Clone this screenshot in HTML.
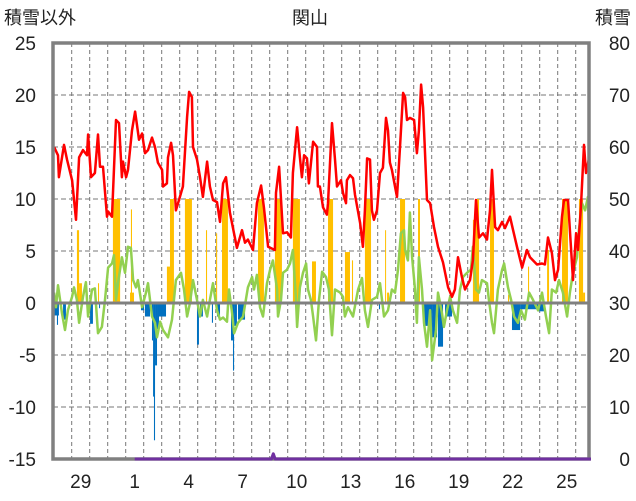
<!DOCTYPE html>
<html><head><meta charset="utf-8">
<style>
html,body{margin:0;padding:0;background:#fff;}
svg{display:block;font-family:"Liberation Sans","Noto Sans CJK JP",sans-serif;}
</style></head>
<body>
<svg id="chart" width="636" height="501" viewBox="0 0 636 501" xmlns="http://www.w3.org/2000/svg">
<defs><clipPath id="plotclip"><rect x="53" y="43" width="536" height="416"/></clipPath></defs>
<text x="4" y="24" font-size="18" fill="#222">積雪以外</text>
<text x="310" y="24" font-size="18" fill="#222" text-anchor="middle">関山</text>
<text x="631" y="24" font-size="18" fill="#222" text-anchor="end">積雪</text>
<g id="grid"></g>
<g id="marks" clip-path="url(#plotclip)"></g>
<g id="axes"></g>
</svg>
<script>
// ---- data (t = days since start of the 28th; values in chart units) ----
const leftTicks = [25,20,15,10,5,0,-5,-10,-15];
const rightTicks = [80,70,60,50,40,30,20,10,0];
const dayLabels = ["29","1","4","7","10","13","16","19","22","25"];
const dayLabelPos = [1,4,7,10,13,16,19,22,25,28];
const redSeries = [[0.02,15.0],[0.24,14.2],[0.29,12.1],[0.57,15.2],[0.74,13.8],[1.02,11.8],[1.24,8.0],[1.41,14.0],[1.63,14.7],[1.85,14.2],[1.91,16.2],[2.07,12.1],[2.29,12.5],[2.46,16.2],[2.57,13.1],[2.74,13.1],[2.96,8.3],[3.02,8.8],[3.24,8.3],[3.46,17.6],[3.63,17.3],[3.79,12.1],[3.85,13.6],[4.02,12.1],[4.13,12.8],[4.35,16.6],[4.52,18.4],[4.63,17.1],[4.74,15.7],[4.91,16.3],[5.07,14.4],[5.24,14.7],[5.46,15.9],[5.63,15.0],[5.79,13.5],[6.02,12.8],[6.07,11.2],[6.29,11.5],[6.35,14.0],[6.52,15.4],[6.63,14.2],[6.79,8.9],[6.96,9.9],[7.18,11.2],[7.41,17.9],[7.52,20.3],[7.68,19.8],[7.74,15.0],[7.96,13.8],[8.13,12.1],[8.29,10.2],[8.52,13.6],[8.68,11.2],[8.85,9.9],[9.07,9.7],[9.24,7.8],[9.41,11.5],[9.57,12.1],[9.79,8.7],[10.18,5.3],[10.46,7.0],[10.63,5.8],[10.79,6.1],[11.07,5.1],[11.29,9.6],[11.52,11.3],[11.68,9.2],[11.91,5.4],[12.29,5.1],[12.35,10.6],[12.52,13.1],[12.74,6.7],[12.96,6.8],[13.18,6.3],[13.29,12.5],[13.52,16.9],[13.68,14.0],[13.79,12.1],[13.91,14.2],[14.07,13.9],[14.18,11.5],[14.41,15.5],[14.63,15.0],[14.68,11.2],[14.79,11.2],[14.96,9.2],[15.18,8.5],[15.24,9.6],[15.46,17.3],[15.63,13.8],[15.74,11.2],[15.96,11.8],[16.07,10.6],[16.24,9.6],[16.29,11.8],[16.46,12.3],[16.63,12.0],[16.74,10.4],[17.02,7.7],[17.18,5.4],[17.29,8.9],[17.41,13.9],[17.57,13.8],[17.68,8.9],[17.79,8.0],[17.96,8.9],[18.13,12.5],[18.29,13.0],[18.46,17.8],[18.57,16.6],[18.68,13.5],[18.79,12.8],[18.96,11.2],[19.07,10.2],[19.24,15.0],[19.41,20.2],[19.52,19.8],[19.63,17.6],[19.79,17.8],[20.02,17.6],[20.18,14.4],[20.29,16.6],[20.41,21.0],[20.52,18.8],[20.74,9.9],[20.91,9.6],[21.13,7.3],[21.35,5.4],[21.63,3.9],[21.91,1.5],[22.13,0.6],[22.29,1.3],[22.46,4.4],[22.68,2.5],[22.85,1.3],[23.13,2.2],[23.29,4.1],[23.46,9.9],[23.63,6.3],[23.85,6.7],[24.07,6.1],[24.24,8.9],[24.35,12.8],[24.52,7.3],[24.68,7.0],[24.91,7.8],[25.07,7.2],[25.35,8.3],[25.52,7.0],[25.74,5.4],[26.02,3.4],[26.29,5.1],[26.46,4.4],[26.85,3.7],[27.13,3.8],[27.29,3.7],[27.46,6.3],[27.68,4.8],[27.85,2.2],[28.02,3.2],[28.24,8.3],[28.35,9.9],[28.57,9.9],[28.68,7.0],[28.85,2.2],[29.02,6.7],[29.13,5.1],[29.29,9.2],[29.46,15.2],[29.57,12.5],[29.74,13.9],[29.8,11.6]];
const greenSeries = [[0.02,1.0],[0.13,-0.4],[0.24,1.7],[0.46,-1.0],[0.63,-2.6],[0.79,-0.7],[1.02,0.6],[1.13,1.5],[1.29,0.3],[1.41,-1.9],[1.63,0.6],[1.79,2.0],[1.91,-1.3],[2.13,1.3],[2.29,1.4],[2.46,-2.9],[2.68,-2.3],[2.85,0.3],[3.02,3.4],[3.24,3.8],[3.35,4.6],[3.46,0.3],[3.57,1.9],[3.79,4.4],[3.96,2.9],[4.13,5.4],[4.29,5.3],[4.41,2.2],[4.57,1.5],[4.68,2.2],[4.91,-0.4],[5.13,1.0],[5.24,1.9],[5.46,-1.3],[5.63,-1.9],[5.74,-3.3],[5.91,-1.8],[6.07,-2.6],[6.35,-3.3],[6.57,-1.6],[6.79,2.2],[7.07,2.9],[7.24,1.3],[7.41,-1.3],[7.57,0],[7.74,2.2],[7.96,0.3],[8.13,-1.3],[8.29,0.3],[8.52,-1.3],[8.68,0.3],[8.85,1.9],[9.07,-0.7],[9.24,-1.6],[9.41,-1.4],[9.63,-1.8],[9.74,1.3],[9.91,-1.0],[10.02,-2.9],[10.24,-1.9],[10.52,-1.3],[10.79,1.5],[11.02,2.5],[11.13,1.3],[11.29,2.7],[11.46,-0.4],[11.63,-1.3],[11.85,1.9],[12.02,3.2],[12.18,4.1],[12.41,1.3],[12.46,-1.3],[12.63,0.3],[12.74,2.9],[12.96,3.2],[13.13,3.8],[13.29,5.1],[13.46,0.3],[13.52,-2.3],[13.68,1.5],[13.85,2.9],[14.02,3.8],[14.13,1.3],[14.29,0.3],[14.41,-1.3],[14.57,-3.6],[14.74,0.3],[14.91,3.0],[15.13,2.5],[15.29,1.3],[15.46,-3.1],[15.63,1.3],[15.91,1.0],[16.07,0.6],[16.18,-1.3],[16.35,-0.4],[16.63,-1.3],[16.91,1.3],[17.13,2.4],[17.29,-0.7],[17.46,-2.3],[17.68,0.3],[17.96,0.6],[18.13,1.9],[18.35,-1.3],[18.57,-0.7],[18.79,1.3],[18.96,1.0],[19.13,3.2],[19.29,6.7],[19.46,7.0],[19.52,5.1],[19.68,4.1],[19.79,8.7],[19.91,4.4],[20.07,1.3],[20.18,-1.9],[20.29,4.4],[20.46,1.3],[20.57,-1.9],[20.74,-4.2],[20.91,-0.7],[21.02,-5.5],[21.24,-2.6],[21.35,1.0],[21.57,-1.0],[21.68,-2.3],[21.85,-0.7],[22.02,0.6],[22.18,-0.7],[22.41,-1.9],[22.57,1.3],[22.74,2.5],[22.96,2.9],[23.18,3.2],[23.29,5.4],[23.46,1.3],[23.63,1.0],[23.79,2.2],[24.07,1.9],[24.18,0.3],[24.35,-1.9],[24.46,-2.9],[24.68,1.3],[24.91,3.2],[25.02,3.8],[25.24,1.5],[25.41,0.3],[25.57,-1.3],[25.79,-1.9],[25.96,-0.7],[26.18,-1.6],[26.41,1.0],[26.63,0.3],[26.91,-0.7],[27.13,1.0],[27.35,-1.3],[27.52,-2.9],[27.68,1.3],[27.91,1.0],[28.07,2.2],[28.29,1.0],[28.52,-1.3],[28.68,1.0],[28.85,2.9],[29.07,4.4],[29.18,7.0],[29.35,9.6],[29.52,8.9],[29.68,10.2],[29.8,3.5]];
const yellowBars = [[1.29,1.41,7.0],[1.41,1.57,1.9],[2.46,2.52,1.9],[3.29,3.69,10],[4.24,4.46,1.0],[4.29,4.35,9],[6.29,6.46,3.5],[6.46,6.68,10],[7.29,7.68,10],[8.46,8.52,7],[9.02,9.08,6.7],[9.35,9.68,10],[11.35,11.68,10],[12.29,12.68,10],[13.29,13.68,10],[14.35,14.57,4],[15.24,15.52,10],[16.18,16.46,4.9],[16.57,16.63,4.1],[17.29,17.63,10],[18.41,18.46,7],[18.52,18.63,1],[19.24,19.52,10],[20.24,20.35,10],[23.29,23.46,8],[23.46,23.63,10],[24.24,24.46,10],[25.24,25.3,0.8],[26.35,26.41,3.5],[27.41,27.52,5.1],[28.24,28.57,10],[29.18,29.41,10],[29.41,29.52,1]];
const blueBars = [[0.02,0.29,-1.2],[0.18,0.24,-2.1],[0.52,0.68,-1.6],[2.02,2.18,-2],[2.52,2.57,-0.5],[4.85,5.02,-0.7],[5.07,5.35,-1.3],[5.46,5.52,-3.6],[5.52,5.57,-9],[5.57,5.63,-13.2],[5.63,5.74,-6],[5.74,5.85,-2.5],[5.85,6.24,-1.3],[7.96,8.07,-4],[8.13,8.29,-1.3],[8.79,8.85,-1.9],[9.07,9.24,-1.3],[9.85,9.96,-3.6],[9.96,10.02,-6.5],[10.02,10.18,-2.2],[10.24,10.63,-1.6],[18.07,18.13,-0.6],[20.52,21.02,-2.2],[21.02,21.3,-3.3],[21.35,21.63,-4.2],[21.74,22.13,-1.3],[25.46,25.91,-2.6],[25.91,26.91,-0.6],[26.91,27.3,-0.8],[29.74,29.8,-1]];
const snowDepth = [[4.5,0],[12.1,0],[12.2,1.0],[12.3,0],[29.85,0]];

// ---- scales ----
const X0 = 53.7, DAY = 18;
function xs(t){ return X0 + t*DAY; }
function yl(v){ return 303 - v*10.4; }
function yr(v){ return 459 - v*5.2; }
const NS = "http://www.w3.org/2000/svg";
function mk(tag, attrs, parent){ const e=document.createElementNS(NS,tag); for(const k in attrs) e.setAttribute(k,attrs[k]); parent.appendChild(e); return e; }
const grid=document.getElementById('grid'), marks=document.getElementById('marks'), axes=document.getElementById('axes');

// grid
for(let k=1;k<=29;k++){
  const l=mk('line',{x1:xs(k),x2:xs(k),y1:43,y2:459,stroke:'#777','stroke-width':1,'stroke-dasharray':'4,3'},grid);
  
  
}
leftTicks.forEach(v=>{
  if(v===25||v===-15) return;
  const l=mk('line',{x1:53,x2:589,y1:yl(v),y2:yl(v),stroke:'#777','stroke-width':1,'stroke-dasharray':'5,3'},grid);
  
  
});

// bars
yellowBars.forEach(b=>{
  const r=mk('rect',{x:xs(b[0]),y:yl(b[2]),width:Math.max(1,xs(b[1])-xs(b[0])),height:yl(0)-yl(b[2]),fill:'#ffc000'},marks);
  
  
});
blueBars.forEach(b=>{
  const r=mk('rect',{x:xs(b[0]),y:yl(0),width:Math.max(1,xs(b[1])-xs(b[0])),height:yl(b[2])-yl(0),fill:'#0070c0'},marks);
  
  
});
function line(data, yf, color, w, name, parent){
  const p=mk('polyline',{points:data.map(d=>xs(d[0]).toFixed(1)+','+yf(d[1]).toFixed(1)).join(' '),fill:'none',stroke:color,'stroke-width':w,'stroke-linejoin':'round'},parent);
  
  
}
line(greenSeries, yl, '#92d050', 2.5, 'green-series-line', marks);
line(redSeries, yl, '#ff0000', 2.5, 'temperature-line', marks);

// zero line
const z=mk('line',{x1:53,x2:589,y1:yl(0),y2:yl(0),stroke:'#808080','stroke-width':3},axes);



// frame
const fr=mk('rect',{x:53,y:43,width:536,height:416,fill:'none',stroke:'#808080','stroke-width':3.5},axes);



// snow depth on top of frame
line(snowDepth, yr, '#7030a0', 3, 'snow-depth-line', axes);

// ticks
leftTicks.forEach(v=>{
  const t=mk('text',{x:36,y:yl(v)+7,'font-size':19,'text-anchor':'end',fill:'#222'},axes);
  t.textContent=v;
  
  
});
rightTicks.forEach(v=>{
  const t=mk('text',{x:630,y:yr(v)+7,'font-size':19,'text-anchor':'end',fill:'#222'},axes);
  t.textContent=v;
  
  
});
dayLabels.forEach((s,i)=>{
  const t=mk('text',{x:xs(dayLabelPos[i]+0.5),y:488,'font-size':19,'text-anchor':'middle',fill:'#222'},axes);
  t.textContent=s;
  
  
});
</script>
</body></html>
